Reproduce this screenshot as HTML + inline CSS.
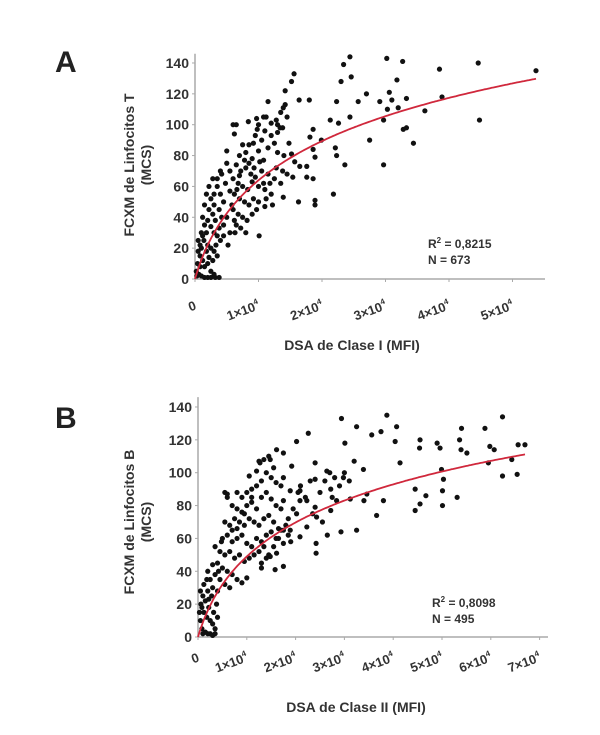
<!DOCTYPE html>
<html><head><meta charset="utf-8"><style>
html,body{margin:0;padding:0;background:#fff;}
svg{display:block;font-family:"Liberation Sans",Arial,sans-serif;}
</style></head><body>
<svg id="chart" width="600" height="735" viewBox="0 0 600 735"></svg>
<script>
// Panel A data (x in units of 1e4 MFI, y in MCS)
const ptsAx=[2.44,3.02,3.27,2.34,4.46,5.37,3.85,1.56,1.52,3.18,2.30,2.46,2.70,3.06,2.57,2.91,3.10,2.23,1.15,1.80,1.64,3.89,3.33,3.20,3.62,3.03,2.44,1.42,0.65,0.84,0.97,1.08,1.28,1.39,1.34,4.48,2.97,3.33,3.28,3.44,2.75,2.13,2.26,1.86,1.81,1.99,2.21,2.23,2.36,2.97,1.86,1.89,1.52,1.57,1.65,1.76,1.86,1.76,1.54,2.18,1.89,1.89,1.63,1.39,1.10,1.01,0.63,
1.0,1.1,1.2,1.3,1.25,1.05,0.95,0.85,0.75,0.7,0.8,0.9,1.0,1.15,1.3,1.4,0.65,0.72,0.8,0.88,0.95,1.05,1.15,1.25,1.35,0.6,0.68,0.75,0.83,0.9,1.0,1.1,1.2,0.55,0.62,0.7,0.78,0.85,0.92,1.0,1.12,1.22,0.6,0.68,0.75,0.82,0.9,0.97,0.65,0.72,0.8,0.5,0.55,0.45,0.5,0.55,0.42,0.48,0.4,0.45,0.38,0.42,0.35,0.3,0.3,0.25,0.28,0.32,0.22,0.2,0.25,0.3,0.35,0.4,0.18,0.15,0.12,0.1,0.14,0.2,0.25,0.3,0.35,0.1,0.08,0.05,0.04,0.08,0.12,0.15,0.2,0.25,0.3,0.02,0.03,0.06,0.1,0.15,0.2,0.25,0.32,0.38,0.05,0.08,0.12,0.18,0.22,0.28,0.33,0.38,0.45,0.52,0.58,0.62,0.66,0.7,0.78,0.85,0.93,1.02,1.08,1.18,1.28,1.38,1.45,1.48,1.12,1.2,1.3,1.38,1.45,0.92,0.98,1.08,1.35,1.42,0.6,0.62,0.4,0.35,0.5,0.28,0.18,0.22,0.15];
const ptsAy=[144,143,141,139,140,135,136,133,128,129,128,131,120,121,115,115,116,115,115,116,116,118,117,111,109,110,105,122,100,102,104,105,103,111,98,103,103,98,97,88,90,103,101,97,92,90,85,80,74,74,84,79,81,76,73,73,65,66,66,55,51,48,50,53,47,28,30,
100,96,93,95,88,90,93,87,87,80,82,78,83,85,82,80,74,70,72,68,66,70,68,65,62,65,62,60,58,63,60,58,55,57,55,52,50,48,52,50,52,48,45,42,40,38,42,45,35,33,30,40,30,35,75,70,68,62,55,50,45,40,60,55,48,52,42,38,45,38,34,30,28,25,30,35,40,30,25,22,20,18,15,20,15,18,10,8,12,8,10,5,3,5,2,3,2,1,1,1,1,1,25,22,28,18,14,12,22,33,28,22,48,38,58,67,77,75,72,76,62,62,72,70,68,88,105,101,100,98,105,88,97,77,108,113,100,94,70,65,83,65,55,60,48];
const xTicksA=[0,1,2,3,4,5];
const yTicksA=[0,20,40,60,80,100,120,140];
const fitA=[45,0.318]; // y = a*ln(1+x/c)
// Panel B data
const ptsBx=[3.87,2.94,6.24,3.25,4.07,5.40,5.88,2.26,3.56,3.75,2.02,3.01,4.04,4.55,5.36,4.90,6.70,6.56,4.96,5.98,6.07,5.39,4.14,4.54,5.95,5.51,4.99,6.43,5.03,6.24,6.54,4.45,5.01,4.55,4.67,5.31,5.01,4.45,3.66,3.25,2.93,3.46,3.80,3.12,3.40,2.98,3.39,3.20,2.64,2.40,2.40,2.72,2.84,2.72,2.40,2.23,2.43,2.42,2.42,2.23,2.09,2.02,2.09,2.09,1.89,1.75,1.61,1.75,1.48,1.27,1.92,1.75,1.89,1.75,1.48,1.30,1.58,1.75,1.61,
0.8,0.9,1.0,1.1,1.2,1.3,1.4,1.5,1.6,1.7,0.6,0.7,0.8,0.9,1.0,1.1,1.2,1.3,1.4,1.5,1.6,1.7,0.55,0.65,0.75,0.85,0.95,1.05,1.15,1.25,1.35,1.45,1.55,1.65,0.5,0.6,0.7,0.8,0.9,1.0,1.1,1.2,1.3,1.4,1.5,1.6,0.45,0.55,0.65,0.75,0.85,0.95,1.05,1.15,1.25,1.35,1.45,0.4,0.5,0.6,0.7,0.8,0.9,1.0,0.35,0.45,0.55,0.65,0.3,0.4,0.25,0.2,0.3,0.35,0.28,0.2,0.15,0.1,0.05,0.08,0.12,0.18,0.22,0.25,0.3,0.35,0.05,0.08,0.1,0.15,0.2,0.25,0.3,0.35,0.03,0.06,0.12,0.18,0.22,0.32,0.38,0.4,0.42,0.48,0.55,0.6,0.7,0.8,0.95,1.05,1.1,1.2,1.25,1.35,1.45,1.55,1.3,1.4,1.55,1.65,1.7,1.8,1.85,1.9,1.95,2.05,2.1,2.2,2.3,2.5,2.6,2.7,2.8,2.9,3.0,3.1,2.35,2.55,2.65,2.75,1.75,1.85];
const ptsBy=[135,133,134,128,128,127,127,124,123,125,119,118,119,120,120,118,117,117,115,116,114,114,106,115,106,112,102,108,96,98,99,90,89,81,86,85,80,77,74,65,64,87,83,84,83,97,102,107,101,96,106,90,83,77,79,83,73,57,51,67,61,75,83,89,89,83,114,112,108,106,104,65,65,57,49,42,41,43,51,
88,85,88,90,92,95,100,97,94,92,85,80,78,76,80,82,78,85,88,84,80,78,70,68,72,70,68,72,70,68,72,74,70,66,60,62,58,60,62,57,55,60,58,62,64,60,52,50,52,48,50,46,48,50,52,55,50,45,42,40,38,35,33,36,38,35,32,30,30,28,35,40,44,55,25,28,22,25,28,18,15,12,18,10,8,5,10,5,2,3,2,2,1,2,15,20,32,35,23,15,20,12,40,58,88,87,65,66,75,98,85,101,107,108,110,103,45,48,55,60,65,68,62,58,78,88,92,85,95,88,95,100,97,92,100,95,75,70,62,85,97,72];
const xTicksB=[0,1,2,3,4,5,6,7];
const yTicksB=[0,20,40,60,80,100,120,140];
const fitB=[38,0.38];

const svg=document.getElementById('chart');
const NS='http://www.w3.org/2000/svg';
function mk(tag,attrs,parent){const e=document.createElementNS(NS,tag);for(const k in attrs)e.setAttribute(k,attrs[k]);(parent||svg).appendChild(e);return e;}

function panel(cfg){
  const g=mk('g',{});
  
  
  const sx=v=>cfg.x0+v*cfg.xs;
  const sy=v=>cfg.y0-v*cfg.ys;
  const ax=mk('line',{x1:cfg.x0,y1:sy(146),x2:cfg.x0,y2:cfg.y0,stroke:'#aaa','stroke-width':1.5},g);
  
  const bx=mk('line',{x1:cfg.x0,y1:cfg.y0,x2:cfg.xEnd,y2:cfg.y0,stroke:'#aaa','stroke-width':1.5},g);
  
  cfg.yt.forEach(v=>{
    const t=mk('text',{x:cfg.x0-6,y:sy(v)+5,'text-anchor':'end','font-size':14,'font-weight':'bold',fill:'#333'},g);
    t.textContent=v;
    
    
    mk('line',{x1:cfg.x0-3,y1:sy(v),x2:cfg.x0,y2:sy(v),stroke:'#aaa'},g);
  });
  cfg.xt.forEach(v=>{
    const px=sx(v);
    mk('line',{x1:px,y1:cfg.y0,x2:px,y2:cfg.y0+3,stroke:'#aaa'},g);
    const t=mk('text',{x:px+2,y:cfg.y0+cfg.lblDy,'text-anchor':'end','font-size':13,'font-weight':'bold',fill:'#333',transform:`rotate(-20 ${px+2} ${cfg.y0+cfg.lblDy})`},g);
    if(v===0){t.textContent='0';}
    else{t.textContent=v+'\u00d710';const s=mk('tspan',{'font-size':8,dy:-6},t);s.textContent='4';}
    
    
  });
  cfg.px.forEach((xv,i)=>{
    const c=mk('circle',{cx:sx(xv),cy:sy(cfg.py[i]),r:2.6,fill:'#111'},g);
    
    
  });
  let d='';const xmax=cfg.px.reduce((a,b)=>Math.max(a,b),0);
  for(let i=0;i<=200;i++){const xv=xmax*i/200;const yv=cfg.fit[0]*Math.log(1+xv/cfg.fit[1]);d+=(i?'L':'M')+sx(xv).toFixed(1)+' '+sy(yv).toFixed(1);}
  const p=mk('path',{d:d,fill:'none',stroke:'#d0283c','stroke-width':1.8},g);
  
}

panel({name:'panel-a',x0:195,y0:279,xs:63.5,ys:1.543,xEnd:545,xt:xTicksA,yt:yTicksA,px:ptsAx,py:ptsAy,fit:fitA,lblDy:30});
panel({name:'panel-b',x0:198,y0:637,xs:48.8,ys:1.643,xEnd:548,xt:xTicksB,yt:yTicksB,px:ptsBx,py:ptsBy,fit:fitB,lblDy:24});
</script>
<div style="position:absolute;left:0;top:0;width:600px;height:735px;pointer-events:none">
<svg width="600" height="735" style="font-family:'Liberation Sans',Arial,sans-serif">
<text x="55" y="72" font-size="30" font-weight="bold" fill="#222">A</text>
<text x="55" y="428" font-size="30" font-weight="bold" fill="#222">B</text>
<g transform="translate(134,165) rotate(-90)">
<text x="0" y="0" text-anchor="middle" font-size="14" font-weight="bold" fill="#333">FCXM de Linfocitos T</text>
<text x="0" y="17" text-anchor="middle" font-size="14" font-weight="bold" fill="#333">(MCS)</text></g>
<g transform="translate(134,522) rotate(-90)">
<text x="0" y="0" text-anchor="middle" font-size="14" font-weight="bold" fill="#333">FCXM de Linfocitos B</text>
<text x="0" y="17" text-anchor="middle" font-size="14" font-weight="bold" fill="#333">(MCS)</text></g>
<text x="352" y="350" text-anchor="middle" font-size="14" font-weight="bold" fill="#333">DSA de Clase I (MFI)</text>
<text x="356" y="712" text-anchor="middle" font-size="14" font-weight="bold" fill="#333">DSA de Clase II (MFI)</text>
<text x="428" y="248" font-size="12" font-weight="bold" fill="#333">R<tspan font-size="8" dy="-5">2</tspan><tspan dy="5"> = 0,8215</tspan></text>
<text x="428" y="264" font-size="12" font-weight="bold" fill="#333">N = 673</text>
<text x="432" y="607" font-size="12" font-weight="bold" fill="#333">R<tspan font-size="8" dy="-5">2</tspan><tspan dy="5"> = 0,8098</tspan></text>
<text x="432" y="623" font-size="12" font-weight="bold" fill="#333">N = 495</text>
</svg></div>
</body></html>
